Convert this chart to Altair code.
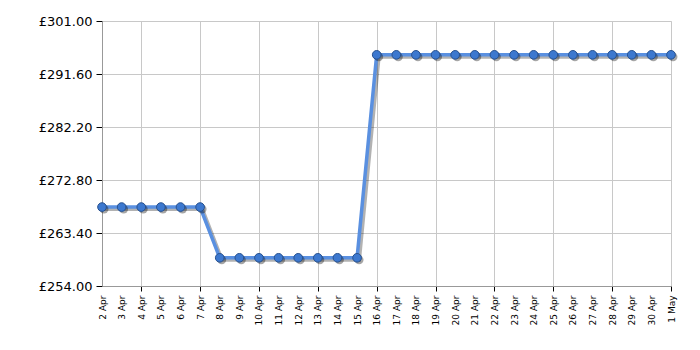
import altair as alt
import pandas as pd

dates = pd.date_range("2024-04-02", "2024-05-01", freq="D").strftime("%Y-%m-%d").tolist()
prices = [268.0] * 6 + [259.0] * 8 + [295.0] * 16

y_ticks = [254.0, 263.4, 272.8, 282.2, 291.6, 301.0]

df = pd.DataFrame({"date": dates, "price": prices})

grid_test = "utcdate(datum.value) % 3 == 1"

x_enc = alt.X(
    "date:T",
    scale=alt.Scale(type="utc", nice=False),
    axis=alt.Axis(
        title=None,
        tickCount=alt.TimeIntervalStep(interval="day", step=1),
        labelExpr="utcFormat(datum.value, '%-d %b')",
        labelAngle=-90,
        labelAlign="right",
        labelBaseline="middle",
        labelFont="DejaVu Sans",
        labelFontSize=9,
        labelColor="#000000",
        labelPadding=4,
        labelOverlap=False,
        grid=True,
        gridColor="#c8c8c8",
        gridOpacity={"condition": {"test": grid_test, "value": 1}, "value": 0},
        tickOpacity={"condition": {"test": grid_test, "value": 1}, "value": 0},
        tickColor="#000000",
        tickSize=5,
        domainColor="#999999",
    ),
)

y_enc = alt.Y(
    "price:Q",
    scale=alt.Scale(domain=[254, 301], nice=False, zero=False),
    axis=alt.Axis(
        title=None,
        values=y_ticks,
        labelExpr="'£' + format(datum.value, '.2f')",
        labelFont="DejaVu Sans",
        labelFontSize=13,
        labelColor="#000000",
        labelPadding=4,
        grid=True,
        gridColor="#c8c8c8",
        tickColor="#000000",
        tickSize=6,
        domainColor="#999999",
    ),
)

base = alt.Chart(df).encode(x=x_enc, y=y_enc)

shadow_line = base.mark_line(color="#000000", opacity=0.3, strokeWidth=4, xOffset=2, yOffset=2)
line = base.mark_line(color="#5a90e0", strokeWidth=3.5)
shadow_pts = base.mark_circle(color="#000000", opacity=0.35, size=80, xOffset=2, yOffset=2)
pts = base.mark_point(filled=True, shape="circle", size=75, fill="#3c78cf", stroke="#27518f", strokeWidth=1, opacity=1)

chart = (
    alt.layer(shadow_line, line, shadow_pts, pts)
    .properties(
        width=569,
        height=265,
        autosize=alt.AutoSizeParams(type="none"),
        padding={"left": 102, "top": 21, "right": 29, "bottom": 64},
    )
    .configure_view(stroke="#999999", strokeWidth=1)
    .configure(background="#ffffff")
)

chart.save("out.html", embed_options={"renderer": "svg", "actions": False})
